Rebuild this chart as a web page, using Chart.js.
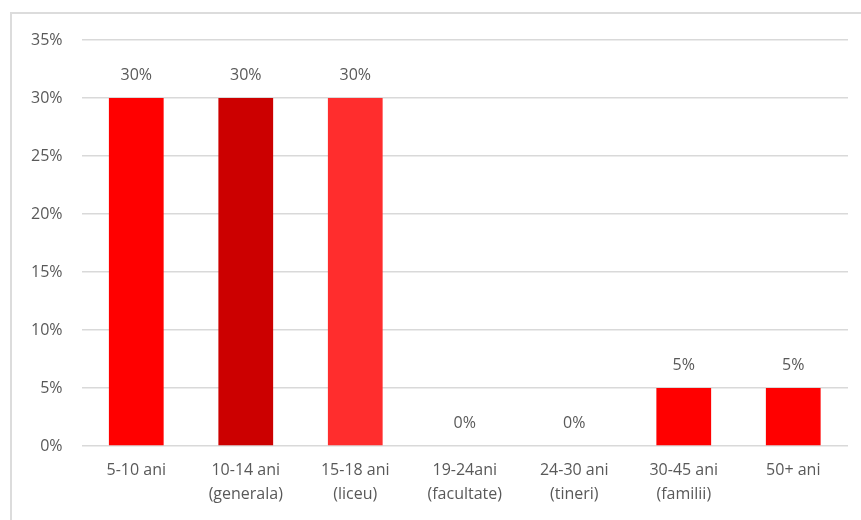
<!DOCTYPE html>
<html>
<head>
<meta charset="utf-8">
<script src="https://cdn.jsdelivr.net/npm/chart.js@4.4.1/dist/chart.umd.min.js"></script>
<style>
  html, body { margin: 0; padding: 0; background: #fff; }
  #wrap { position: relative; width: 861px; height: 520px; }
  #frame {
    position: absolute; left: 10px; top: 12px; width: 900px; height: 600px;
    border-left: 2px solid #dcdcdc; border-top: 2px solid #dcdcdc; pointer-events: none;
  }
</style>
</head>
<body>
<div id="wrap">
  <canvas id="ageChart" width="861" height="520"></canvas>
  <div id="frame"></div>
</div>
<script>
// categories (age groups)
const categories = [
  ["5-10 ani"],
  ["10-14 ani", "(generala)"],
  ["15-18 ani", "(liceu)"],
  ["19-24ani", "(facultate)"],
  ["24-30 ani", "(tineri)"],
  ["30-45 ani", "(familii)"],
  ["50+ ani"],
];
// share per group, in percent
const values = [30, 30, 30, 0, 0, 5, 5];
const barColors = ["#ff0000", "#cc0000", "#ff2d2d", "#ff0000", "#ff0000", "#ff0000", "#ff0000"];
const yTicks = [0, 5, 10, 15, 20, 25, 30, 35];

const textColor = "#595959";
const fontFamily = "'Open Sans', 'Liberation Sans', sans-serif";

// small plugin to write the value above every bar
const valueLabels = {
  id: "valueLabels",
  afterDatasetsDraw(chart) {
    const ctx = chart.ctx;
    const meta = chart.getDatasetMeta(0);
    ctx.save();
    ctx.fillStyle = textColor;
    ctx.font = "16px " + fontFamily;
    ctx.textAlign = "center";
    ctx.textBaseline = "middle";
    meta.data.forEach((bar, i) => {
      ctx.fillText(values[i] + "%", bar.x, bar.y - 23);
    });
    ctx.restore();
  },
};

const ctx = document.getElementById("ageChart").getContext("2d");
new Chart(ctx, {
  type: "bar",
  data: {
    labels: categories,
    datasets: [{
      data: values,
      backgroundColor: barColors,
      barPercentage: 0.5,
      categoryPercentage: 1.0,
    }],
  },
  options: {
    responsive: false,
    animation: false,
    layout: { padding: { left: 12, right: 13, top: 40, bottom: 2 } },
    plugins: {
      legend: { display: false },
      tooltip: { enabled: false },
    },
    scales: {
      x: {
        grid: { display: false, drawTicks: false },
        border: { display: false },
        ticks: {
          color: textColor,
          font: { family: fontFamily, size: 16, lineHeight: 1.5 },
          padding: 12,
          maxRotation: 0,
          autoSkip: false,
        },
      },
      y: {
        min: 0,
        max: 35,
        afterBuildTicks: (axis) => {
          axis.ticks = yTicks.map((v) => ({ value: v }));
        },
        grid: { color: "#d9d9d9", lineWidth: 1.5, drawTicks: false },
        border: { display: false },
        ticks: {
          color: textColor,
          font: { family: fontFamily, size: 16 },
          padding: 19,
          callback: (v) => v + "%",
        },
      },
    },
  },
  plugins: [valueLabels],
});
</script>
</body>
</html>
